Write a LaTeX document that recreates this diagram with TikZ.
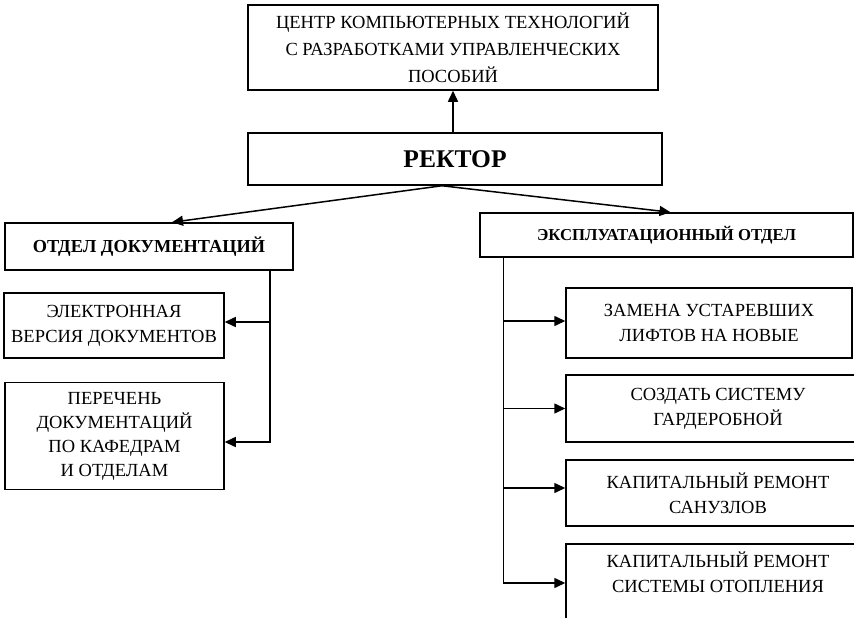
\documentclass[tikz,border=0pt]{standalone}
\usepackage{fontspec}
\setmainfont{Liberation Serif}
\usetikzlibrary{arrows.meta}

\tikzset{
  box/.style={draw, line width=1.5pt, inner sep=0pt, align=center, fill=white},
  plain/.style={font=\fontsize{18.5}{25}\selectfont},
  arr/.style={line width=1.5pt, -{Triangle[length=11pt,width=10pt]}},
}

\begin{document}
\begin{tikzpicture}[x=1pt,y=-1pt]
\useasboundingbox (0,0) rectangle (854,618);
\fill[white] (0,0) rectangle (854,618);
\clip (0,0) rectangle (854,618);

% top level
\node[box, minimum width=410pt, minimum height=85pt,
      font=\fontsize{18.5}{27}\selectfont] (center) at (453,47.5)
  {ЦЕНТР КОМПЬЮТЕРНЫХ ТЕХНОЛОГИЙ\\С РАЗРАБОТКАМИ УПРАВЛЕНЧЕСКИХ\\ПОСОБИЙ};
\node[box, minimum width=414pt, minimum height=52pt,
      font=\fontsize{25.5}{30}\selectfont\bfseries] (rector) at (455,159) {РЕКТОР};

% departments
\node[box, minimum width=288pt, minimum height=47pt,
      font=\fontsize{18.3}{23}\selectfont\bfseries] (docs) at (149,246.5) {ОТДЕЛ ДОКУМЕНТАЦИЙ};
\node[box, minimum width=373pt, minimum height=44pt,
      font=\fontsize{16.7}{20}\selectfont\bfseries] (expl) at (666.5,235) {ЭКСПЛУАТАЦИОННЫЙ ОТДЕЛ};

% documentation tasks
\node[box, plain, minimum width=220pt, minimum height=65pt] (elec) at (114,325.5)
  {ЭЛЕКТРОННАЯ\\ВЕРСИЯ ДОКУМЕНТОВ};
\node[box, minimum width=219pt, minimum height=107pt,
      font=\fontsize{18.5}{24}\selectfont] (list) at (114.5,436)
  {ПЕРЕЧЕНЬ\\ДОКУМЕНТАЦИЙ\\ПО КАФЕДРАМ\\И ОТДЕЛАМ};

% maintenance tasks
\node[box, plain, minimum width=286pt, minimum height=70pt] (lift) at (709,323)
  {ЗАМЕНА УСТАРЕВШИХ\\ЛИФТОВ НА НОВЫЕ};
\node[box, plain, minimum width=304pt, minimum height=67pt] (ward) at (718,408.5)
  {СОЗДАТЬ СИСТЕМУ\\ГАРДЕРОБНОЙ};
\node[box, plain, minimum width=304pt, minimum height=66pt] (wc) at (718,493)
  {КАПИТАЛЬНЫЙ РЕМОНТ\\САНУЗЛОВ};
\node[box, minimum width=304pt, minimum height=100pt, anchor=north] (heat) at (718,543) {};
\node[plain, align=center, anchor=north] (heattext) at (heat.north |- 0,548)
  {КАПИТАЛЬНЫЙ РЕМОНТ\\СИСТЕМЫ ОТОПЛЕНИЯ};

% connectors
\draw[arr] (center.south |- rector.north) -- (center.south);
\coordinate (apex) at ([xshift=-13pt]rector.south);
\draw[arr] (apex) -- ([xshift=23pt]docs.north);
\draw[arr] (apex) -- ([xshift=4pt]expl.north);

\coordinate (dbus) at ([xshift=-24pt]docs.south east);
\draw[arr] (dbus) |- ([yshift=3.5pt]elec.east);
\draw[arr] (dbus) |- ([yshift=-6pt]list.east);

\coordinate (ebus) at ([xshift=24pt]expl.south west);
\draw[arr] (ebus) |- ([yshift=2pt]lift.west);
\draw[arr] (ebus) |- (ward.west);
\draw[arr] (ebus) |- ([yshift=5pt]wc.west);
\draw[arr] (ebus) |- (heat.west |- 0,583);
\end{tikzpicture}
\end{document}
